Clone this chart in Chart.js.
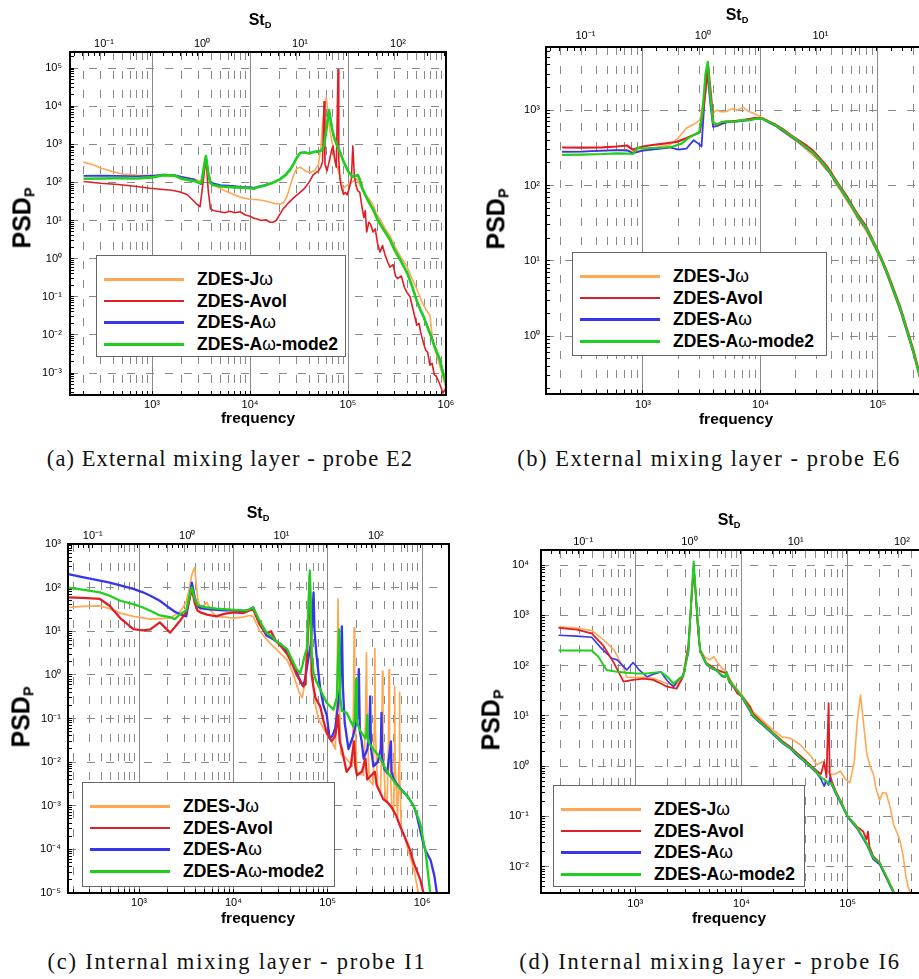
<!DOCTYPE html>
<html><head><meta charset="utf-8">
<script src="https://cdn.jsdelivr.net/npm/chart.js@4.4.1/dist/chart.umd.min.js"></script>
<style>
html,body{margin:0;padding:0;background:#fff;overflow:hidden;width:919px;height:979px;position:relative;font-family:"Liberation Sans",Arial,sans-serif}
canvas{position:absolute}
.t{position:absolute;white-space:nowrap;font-weight:bold;color:#000;transform:translate(-50%,-50%);z-index:5;line-height:1}
.st{font-size:16px}
.st sub,.yl sub{font-size:58%;vertical-align:-0.25em}
.fq{font-size:15.5px}
.yl{font-size:25px;transform:translate(-50%,-50%) rotate(-90deg)}
.cap{position:absolute;white-space:nowrap;font-family:"Liberation Serif","Times New Roman",serif;font-size:21px;color:#111;transform:translate(-50%,-50%);z-index:5}
.leg{position:absolute;background:#fff;border:1px solid #666;z-index:6;box-sizing:border-box}
.legrow{position:absolute;left:0;right:0;height:20px}
.legline{position:absolute;left:7px;width:80px;height:2.5px;top:9px}
.legtxt{position:absolute;left:100px;top:0;font-weight:bold;font-size:17.5px;line-height:20px;white-space:nowrap;color:#000}
.legtxt span{font-weight:normal}
</style></head><body>
<script>
// ---------- series meta ----------
const seriesLabels = ['ZDES-Jω', 'ZDES-Avol', 'ZDES-Aω', 'ZDES-Aω-mode2'];
const seriesColors = ['#ffa752', '#e01e28', '#3636ee', '#1ecf1e'];
const drawOrder = [3, 1, 2, 0];
const ST_SCALE = 3236; // frequency corresponding to St_D = 1

// ---------- panel (a): external mixing layer, probe E2 ----------
const aJ = [[200,340],[250,290],[300,240],[400,190],[500,165],[700,155],[1000,150],[1300,150],[1600,145],[2000,140],[2500,125],[2900,115],[3150,105],[3400,250],[3550,440],[3750,200],[3950,110],[4300,85],[5000,68],[6000,55],[7000,47],[8000,41],[9000,38],[10000,36],[12000,35],[14000,33],[16000,30],[18000,28],[20000,27],[22000,29],[24000,45],[26000,90],[28000,160],[30000,230],[32400,250],[35000,220],[38000,190],[42000,185],[46000,210],[50000,300],[53000,900],[55000,3500],[57500,9000],[60000,17000],[62500,7000],[65000,2500],[70000,900],[75000,340],[82000,150],[88000,68],[95000,80],[105000,95],[115000,110],[123000,125],[135000,75],[150000,48],[165000,36],[180000,26],[195000,15],[212000,11],[240000,6],[268000,4],[300000,2.1],[340000,1.2],[400000,0.62],[450000,0.3],[503000,0.16],[550000,0.09],[584000,0.063],[630000,0.045],[685000,0.033],[710000,0.014],[738000,0.006],[800000,0.003],[867000,0.0015],[930000,0.0008],[1000000,0.0004]];
const aAvol = [[200,105],[300,95],[450,88],[700,78],[950,70],[1300,65],[1600,62],[1930,56],[2280,48],[2620,34],[2900,26],[3090,23],[3350,120],[3550,430],[3750,60],[3950,20],[4300,18],[4940,17],[5500,16],[6200,17.5],[7000,16],[7900,17],[9000,14],[10000,13],[11000,11.5],[11800,11],[13000,10],[14500,10.5],[16000,9],[17100,9],[18500,10],[20000,14],[21700,20],[23500,25],[25000,30],[28000,40],[32400,55],[36000,70],[40000,100],[43900,155],[47000,180],[50000,200],[53000,260],[55000,350],[56900,13000],[58200,300],[61100,200],[65000,400],[68000,700],[70300,900],[73000,400],[76000,250],[79100,90000],[80500,400],[82800,125],[86000,70],[90000,48],[94000,55],[97700,47],[103000,70],[108000,120],[112000,900],[116000,150],[121000,80],[126000,60],[132000,55],[138000,25],[145000,12],[150000,18],[155000,5],[163000,9],[170000,8],[180000,5],[190000,6],[200000,2.5],[212000,1.5],[225000,2.2],[240000,1.2],[255000,0.8],[268000,0.6],[289000,0.7],[305000,0.35],[320000,0.3],[350000,0.35],[375000,0.18],[400000,0.13],[430000,0.1],[450000,0.06],[480000,0.03],[503000,0.018],[530000,0.02],[550000,0.012],[590000,0.006],[620000,0.004],[650000,0.0035],[685000,0.0016],[720000,0.0018],[760000,0.0009],[800000,0.0008],[867000,0.0005],[930000,0.0003],[1000000,0.0004]];
const aA = [[200,148],[300,150],[450,148],[700,145],[1000,150],[1300,160],[1700,155],[2000,140],[2300,130],[2700,120],[3000,95],[3200,90],[3400,250],[3550,470],[3750,180],[3950,105],[4200,95],[5000,85],[6000,82],[7000,80],[8500,76],[10000,75],[11000,72],[12000,78],[14000,85],[17000,100],[20000,120],[23000,160],[25700,220],[28000,320],[30000,450],[32400,600],[36000,620],[40000,590],[45000,640],[50000,650],[54000,700],[57000,1000],[60000,2500],[62500,5500],[64000,8000],[66000,5000],[69000,2500],[73000,1400],[78000,900],[83000,630],[90000,360],[100000,200],[112000,140],[120000,150],[126000,160],[132000,120],[142000,65],[155000,40],[167000,28],[180000,20],[200000,11],[230000,6],[268000,3.2],[300000,1.7],[350000,0.85],[400000,0.45],[450000,0.2],[503000,0.08],[550000,0.045],[584000,0.033],[640000,0.018],[700000,0.01],[780000,0.0045],[867000,0.0023],[930000,0.0011],[1000000,0.0006]];
const aM2 = [[200,125],[300,127],[450,128],[700,126],[1000,135],[1300,155],[1700,150],[2000,125],[2300,115],[2700,108],[3000,100],[3200,95],[3400,280],[3550,490],[3750,170],[3950,95],[4200,85],[5000,78],[6000,76],[7000,74],[8500,72],[10000,70],[11000,68],[12000,75],[14000,82],[17000,98],[20000,118],[23000,155],[25700,215],[28000,310],[30000,440],[32400,590],[36000,610],[40000,580],[45000,630],[50000,640],[54000,690],[57000,950],[60000,2300],[62500,5200],[64000,7800],[66000,4800],[69000,2400],[73000,1350],[78000,880],[83000,620],[90000,350],[100000,195],[112000,138],[120000,148],[126000,155],[132000,118],[142000,63],[155000,39],[167000,27],[180000,19.5],[200000,10.5],[230000,5.8],[268000,3.1],[300000,1.65],[350000,0.82],[400000,0.43],[450000,0.19],[503000,0.078],[550000,0.044],[584000,0.032],[640000,0.017],[700000,0.0095],[780000,0.0043],[867000,0.0022],[930000,0.001],[1000000,0.00055]];

// ---------- panel (b): external mixing layer, probe E6 ----------
const bJ = [[205,285],[300,283],[450,288],[600,295],[730,298],[820,280],[1000,300],[1300,320],[1700,350],[2000,430],[2350,580],[2700,650],[3050,740],[3300,1500],[3500,3000],[3700,1400],[3900,900],[4250,1000],[4700,950],[5150,960],[5700,1050],[6400,1000],[7100,1100],[7800,980],[8700,910],[10000,820],[10500,760],[12000,670],[13500,610],[15500,520],[18000,440],[21000,370],[24600,300],[28000,250],[32000,205],[36300,160],[40000,160],[42000,115],[48000,85],[53700,64],[60000,49],[68000,35],[79000,25],[90000,17],[105000,10.5],[120000,6.3],[135000,3.8],[155000,2.1],[175000,1.15],[200000,0.58],[223000,0.3],[260000,0.115]];
const bAvol = [[205,320],[300,318],[450,322],[600,330],[730,340],[820,300],[1000,330],[1200,345],[1400,355],[1700,370],[1940,380],[2300,420],[2680,465],[3050,515],[3300,1200],[3590,3800],[3800,1500],[3970,670],[4300,640],[4700,690],[5150,700],[6000,720],[7100,740],[8000,760],[9000,790],[10000,780],[10500,775],[12000,700],[13500,640],[15500,560],[18000,470],[21000,400],[24600,340],[28000,290],[32000,230],[36300,185],[42000,130],[48000,95],[53700,74],[60000,55],[68000,40],[79000,29],[90000,19],[105000,11.5],[120000,7],[135000,4.3],[155000,2.4],[175000,1.3],[200000,0.65],[223000,0.34],[260000,0.13]];
const bA = [[205,280],[300,282],[450,290],[600,295],[730,292],[820,270],[1000,290],[1300,305],[1700,320],[2000,300],[2350,310],[2700,400],[2960,360],[3150,330],[3350,1500],[3550,3300],[3750,1200],[3950,600],[4300,620],[4700,660],[5150,690],[6000,700],[7100,720],[8000,740],[9000,760],[10000,770],[10500,760],[12000,680],[13500,620],[15500,530],[18000,450],[21000,380],[24600,315],[28000,270],[32000,215],[36300,170],[42000,122],[48000,90],[53700,68],[60000,52],[68000,37],[79000,27],[90000,18],[105000,11],[120000,6.6],[135000,4],[155000,2.2],[175000,1.2],[200000,0.6],[223000,0.32],[260000,0.12]];
const bM2 = [[205,255],[300,258],[450,262],[600,268],[730,266],[820,262],[900,320],[1000,310],[1200,315],[1500,320],[1800,330],[2130,360],[2400,420],[2700,470],[3000,500],[3200,900],[3400,3000],[3560,4400],[3750,1500],[3950,680],[4300,650],[4700,700],[5150,710],[6000,700],[7100,745],[8000,730],[9000,770],[10000,775],[10500,765],[12000,690],[13500,630],[15500,545],[18000,460],[21000,390],[24600,320],[28000,275],[32000,220],[36300,175],[42000,125],[48000,92],[53700,70],[60000,53],[68000,38],[79000,28],[90000,18.5],[105000,11.2],[120000,6.8],[135000,4.1],[155000,2.3],[175000,1.25],[200000,0.62],[223000,0.33],[260000,0.125]];

// ---------- panel (c): internal mixing layer, probe I1 ----------
const cJ = [[178,35],[251,37],[385,38],[490,33],[631,26],[871,22],[1318,19],[1660,19.5],[2138,20],[2723,28],[3162,46],[3388,90],[3631,200],[3890,290],[4169,60],[4467,32],[4800,38],[5248,46],[5700,30],[6607,22],[7943,21],[10000,20],[12589,21],[14791,23],[16218,22],[19055,10],[22387,6.6],[25119,5],[28184,4],[32000,3],[37154,2.2],[42000,1.2],[46774,0.6],[50000,0.39],[53703,0.3],[57544,0.7],[60256,2],[64565,150],[67608,1],[74131,0.2],[79433,0.1],[90000,0.06],[100000,0.04],[110000,0.03],[120226,0.02],[125000,0.4],[128825,55],[132500,0.3],[138038,0.015],[158489,0.012],[181970,0.008],[188000,0.3],[190546,12],[193000,0.2],[204174,0.006],[239883,0.005],[252000,0.1],[257040,3.2],[262000,0.06],[275423,0.004],[301995,0.003],[313000,0.1],[316228,4],[320000,0.05],[338844,0.0025],[363078,0.002],[375000,0.05],[380189,1.2],[385000,0.03],[407380,0.0015],[426580,0.0012],[441000,0.03],[446684,1.3],[452000,0.02],[478630,0.0009],[501187,0.0007],[508000,0.015],[512861,0.55],[518000,0.01],[549541,0.0005],[570000,0.01],[575440,0.4],[581000,0.006],[602560,0.0003],[650000,0.0002],[707946,0.0001],[780000,0.00005],[831764,0.00003],[912011,0.00001]];
const cAvol = [[178,60],[251,58],[385,55],[490,38],[631,20],[871,11.2],[1100,10.5],[1318,11],[1660,16],[2138,9.3],[2723,17.5],[3162,27],[3388,50],[3631,93],[3890,45],[4169,30],[4467,27],[5248,24],[6607,22],[7943,25],[10000,27],[12589,26],[14791,30],[16218,32],[19055,14],[22387,9],[25119,10],[28184,6],[32000,4.5],[37154,3],[42000,1.8],[46774,1.0],[50000,0.8],[54954,0.55],[57544,0.6],[60256,3],[62500,20],[64565,185],[66069,20],[67608,1.0],[71000,0.5],[74131,0.3],[83176,0.19],[90000,0.09],[97724,0.047],[109648,0.03],[120226,0.04],[128825,0.12],[134000,0.03],[141254,0.02],[158489,0.006],[175000,0.008],[190546,0.03],[196000,0.008],[204174,0.005],[230000,0.006],[251189,0.012],[262000,0.004],[290000,0.005],[316228,0.006],[330000,0.003],[389045,0.0014],[430000,0.0012],[478630,0.0009],[530000,0.0006],[588844,0.00033],[650000,0.0002],[741310,0.0001],[812831,0.00005],[891251,0.00003],[960000,0.00002],[1035142,0.00001]];
const cA = [[178,205],[251,175],[385,145],[490,130],[631,112],[871,94],[1100,78],[1318,65],[1660,50],[1960,38],[2400,28],[2723,24.5],[3162,22],[3388,50],[3631,130],[3890,60],[4169,38],[4467,34],[5248,32],[6607,31],[7943,30],[10000,30],[12589,29],[14791,31],[16218,35],[19055,15],[22387,8],[25119,7],[28184,6],[32000,5],[37154,3.5],[42000,2],[46774,1.2],[50000,0.8],[54954,0.55],[57544,0.8],[60256,1.5],[66069,5],[69183,30],[70795,78],[72500,10],[75858,3],[79433,1.2],[83176,0.5],[90000,0.2],[97724,0.12],[104713,0.035],[112000,0.04],[120226,0.06],[135000,0.5],[141254,13],[145000,0.5],[151356,0.08],[165959,0.02],[186209,0.04],[205000,0.1],[213796,1.35],[219000,0.05],[229087,0.03],[239883,0.012],[263027,0.02],[276000,0.05],[281838,0.32],[288000,0.02],[305492,0.008],[338844,0.01],[365000,0.02],[371535,0.135],[378000,0.012],[398107,0.007],[426580,0.0056],[467735,0.03],[475000,0.006],[501187,0.004],[537032,0.0032],[600000,0.0024],[707946,0.0016],[812831,0.001],[880000,0.0006],[954993,0.00028],[1030000,0.00014],[1096478,0.00009],[1230269,0.000057],[1348963,0.000025],[1435489,0.00001]];
const cM2 = [[178,100],[251,90],[385,78],[490,65],[631,50],[871,42],[1100,35],[1318,29.5],[1660,23],[2138,21],[2400,19],[2723,24.5],[3162,30],[3388,60],[3631,100],[3890,55],[4169,40],[4467,38],[5248,35],[6607,33],[7943,32],[10000,31],[12589,30],[13800,30],[14791,32],[16218,35],[19055,17],[22387,9.3],[25119,8],[28184,6],[32000,5],[37154,3.9],[42000,2.2],[46774,1.35],[51000,1.1],[53703,1.6],[57544,3],[60256,4],[62500,40],[64565,245],[66069,30],[67608,3],[70795,1.1],[75858,0.7],[83176,0.47],[90000,0.33],[97724,0.23],[114815,0.16],[125000,0.3],[131826,11],[136000,0.3],[141254,0.15],[158489,0.135],[186209,0.066],[194000,0.1],[199526,0.8],[204000,0.08],[223872,0.05],[251189,0.035],[258000,0.05],[263027,0.12],[268000,0.03],[281838,0.025],[316228,0.018],[354813,0.013],[426580,0.006],[537032,0.003],[707946,0.0016],[812831,0.001],[954993,0.0004],[1096478,0.00008],[1218968,0.00001]];

// ---------- panel (d): internal mixing layer, probe I6 ----------
const dJ = [[190,590],[282,560],[389,500],[500,330],[631,205],[776,90],[832,59],[1000,58],[1288,59],[1500,55],[1995,44],[2455,40],[2818,65],[3162,250],[3400,2200],[3548,8000],[3700,2800],[3900,500],[4074,210],[4500,150],[5000,130],[5495,150],[5888,120],[6500,90],[7244,75],[7943,50],[9120,34],[10000,27],[12023,16],[12882,12],[15000,9],[17000,7],[19953,5.2],[24000,3.8],[28840,3.6],[35481,2.7],[44668,1.6],[51286,1.07],[58884,1.25],[66069,0.75],[70795,0.68],[77000,0.7],[85114,0.8],[95000,0.55],[104713,0.47],[115000,1.2],[123027,8],[131826,26],[140000,8],[151356,1.7],[165000,0.9],[173780,0.72],[185000,0.35],[199526,0.21],[213796,0.3],[230000,0.29],[251189,0.15],[269153,0.07],[288403,0.05],[309030,0.034],[331131,0.017],[354813,0.006],[370000,0.004],[389045,0.003]];
const dAvol = [[190,560],[282,520],[389,435],[500,250],[631,112],[776,48],[955,52],[1200,55],[1479,52],[1700,45],[1995,38],[2455,35],[2818,60],[3162,250],[3400,2500],[3548,8600],[3700,3000],[3900,500],[4074,205],[4677,112],[5888,82],[7244,70],[7600,55],[9120,28],[10000,25],[12023,15],[12882,11],[15000,8],[17000,6.3],[19953,4.6],[24000,3.2],[28840,2.4],[31623,2.0],[37000,1.5],[44668,1.05],[51286,0.8],[56000,0.7],[60000,1.2],[63096,0.6],[66069,18],[67608,0.7],[70795,0.5],[77000,0.32],[85114,0.21],[100000,0.1],[123027,0.062],[140000,0.05],[150000,0.035],[154882,0.05],[160000,0.025],[173780,0.016],[200000,0.012],[230000,0.0065],[269153,0.0033],[290000,0.002]];
const dA = [[190,400],[282,385],[389,365],[480,220],[600,140],[676,130],[832,82],[955,115],[1100,80],[1288,60],[1500,68],[1738,75],[2000,50],[2291,38],[2600,55],[2818,63],[3162,180],[3400,2500],[3548,10000],[3700,2800],[3900,560],[4074,200],[4400,135],[4677,105],[5200,88],[5888,78],[6500,62],[7000,58],[7244,70],[7600,48],[7943,43],[9120,30],[10000,24],[11000,17],[12882,9.5],[15000,7.2],[17000,5.7],[19953,4.2],[24000,2.9],[28840,2.2],[31623,1.8],[37000,1.35],[44668,0.95],[51286,0.72],[56000,0.55],[60000,0.4],[63096,0.5],[66069,0.42],[68000,0.6],[70795,0.42],[77000,0.28],[85114,0.19],[100000,0.095],[123027,0.056],[150000,0.028],[173780,0.014],[200000,0.011],[230000,0.006],[269153,0.003],[290000,0.0019]];
const dM2 = [[190,200],[282,200],[389,200],[450,150],[537,82],[676,75],[832,72],[1000,70],[1288,70],[1738,75],[2000,60],[2291,44],[2600,55],[2818,60],[3162,200],[3400,3000],[3548,11700],[3700,3000],[3900,600],[4074,205],[4400,140],[4677,110],[5200,90],[5888,80],[6500,65],[7000,60],[7244,75],[7600,50],[7943,45],[9120,32],[10000,25],[11000,18],[12882,10],[15000,7.5],[17000,6],[19953,4.4],[24000,3],[28840,2.3],[31623,1.9],[37000,1.4],[44668,1.0],[51286,0.75],[56000,0.6],[63096,0.5],[66069,0.45],[70795,0.45],[77000,0.3],[85114,0.2],[100000,0.1],[123027,0.059],[150000,0.03],[173780,0.015],[200000,0.012],[230000,0.0065],[269153,0.0032],[290000,0.002]];

// ---------- axis ranges ----------
const xRanges = { a:[145.5, 1e6], b:[149.5, 1e6], c:[176.6, 1.93e6], d:[129.7, 1e6] };
const yRanges = { a:[2.65e-4, 2.63e5], b:[0.17, 6918], c:[1e-5, 1e3], d:[0.003, 19900] };

// ---------- layout (positions only) ----------
const panels = [
  {key:'a', series:[aJ,aAvol,aA,aM2], box:{left:0,top:0,w:460,h:430}, yW:70, topH:52, bottomH:35, padR:14, padB:7.4, padT:5.4, padY:12, lw:[1.6,1.6,1.6,2.6]},
  {key:'b', series:[bJ,bAvol,bA,bM2], box:{left:460,top:0,w:560,h:430}, yW:86, topH:47, bottomH:36, padR:24.5, padB:8.4, padT:8.1, padY:10, lw:[1.6,2.2,1.8,2.2]},
  {key:'c', series:[cJ,cAvol,cA,cM2], box:{left:0,top:490,w:460,h:430}, yW:68, topH:54, bottomH:27, padR:11, padB:7.4, padT:5.4, padY:11, lw:[1.7,2.3,2.3,2.3]},
  {key:'d', series:[dJ,dAvol,dA,dM2], box:{left:460,top:490,w:560,h:430}, yW:81, topH:60, bottomH:27, padR:66, padB:8.4, padT:5.4, padY:16, lw:[1.6,1.8,1.6,2]}
];
const texts = {
  a:{st:[260,21], fq:[258,418], yl:[23,218], leg:[96,255,250,102], cap:[230,459,365], caption:'(a) External mixing layer - probe E2'},
  b:{st:[737,16], fq:[736,419], yl:[497,219], leg:[572,252,255,104], cap:[709,459,382], caption:'(b) External mixing layer - probe E6'},
  c:{st:[258,514], fq:[258,918], yl:[22,717], leg:[82,782,253,105], cap:[237,962,377], caption:'(c) Internal mixing layer - probe I1'},
  d:{st:[729,521], fq:[729,918], yl:[492,720], leg:[553,785,252,102], cap:[710,962,380], caption:'(d) Internal mixing layer - probe I6'}
};

// ---------- helpers ----------
const SUP = {'0':'⁰','1':'¹','2':'²','3':'³','4':'⁴','5':'⁵','6':'⁶','7':'⁷','8':'⁸','9':'⁹','-':'⁻'};
function powLabel(v){
  const l = Math.log10(v), e = Math.round(l);
  if (Math.abs(l - e) > 1e-6) return '';
  return '10' + String(e).split('').map(c => SUP[c]).join('');
}
function logTicks(min, max){
  const out = [];
  for (let e = Math.floor(Math.log10(min)); e <= Math.ceil(Math.log10(max)); e++) {
    for (let m = 1; m <= 9; m++) {
      const v = m * Math.pow(10, e);
      if (v >= min * 0.9999 && v <= max * 1.0001) out.push({value: v, major: m === 1});
    }
  }
  return out;
}
const GRID = '#8a8a8a';
const NONE = 'rgba(0,0,0,0)';
const tickFont = {family:'"Liberation Sans", Arial, sans-serif', size: 11};
const framePlugin = {
  id:'frame',
  afterDatasetsDraw(chart){
    const {ctx, chartArea:a} = chart;
    ctx.save(); ctx.strokeStyle = '#000'; ctx.lineWidth = 2;
    ctx.strokeRect(a.left, a.top, a.right - a.left, a.bottom - a.top);
    ctx.restore();
  }
};

function makeChart(p){
  const canvas = document.createElement('canvas');
  canvas.width = p.box.w; canvas.height = p.box.h;
  canvas.style.left = p.box.left + 'px'; canvas.style.top = p.box.top + 'px';
  canvas.style.width = p.box.w + 'px'; canvas.style.height = p.box.h + 'px';
  document.body.appendChild(canvas);
  const xr = xRanges[p.key], yr = yRanges[p.key];
  new Chart(canvas, {
    type:'line',
    data:{ datasets: p.series.map((s, i) => ({
      label: seriesLabels[i],
      data: s.map(([x, y]) => ({x, y})),
      borderColor: seriesColors[i], backgroundColor: seriesColors[i],
      borderWidth: p.lw[i], pointRadius: 0, tension: 0, fill: false,
      borderJoinStyle: 'round', order: drawOrder[i]
    })) },
    options:{
      responsive:false, animation:false, devicePixelRatio:1, events:[],
      layout:{padding:{left:0, top:0, bottom:0, right:p.padR}},
      plugins:{legend:{display:false}, tooltip:{enabled:false}},
      scales:{
        x:{ type:'logarithmic', position:'bottom', min:xr[0], max:xr[1], bounds:'data',
          afterBuildTicks: s => { s.ticks = logTicks(s.min, s.max); },
          afterFit: s => { s.height = p.bottomH; s.paddingLeft = 0; s.paddingRight = 0; },
          ticks:{ autoSkip:false, maxRotation:0, minRotation:0, padding:p.padB, font:tickFont, color:'#000', callback: v => powLabel(v) },
          grid:{ drawTicks:true, tickLength:-4, tickColor:'#000', tickWidth:1, lineWidth:1, color: GRID },
          border:{ display:false, dash: c => (c.tick && !c.tick.major) ? [8, 11] : [] }
        },
        y:{ type:'logarithmic', position:'left', min:yr[0], max:yr[1], bounds:'data',
          afterBuildTicks: s => { s.ticks = logTicks(s.min, s.max); },
          afterFit: s => { s.width = p.yW; s.paddingTop = 0; s.paddingBottom = 0; },
          ticks:{ autoSkip:false, padding:p.padY, font:tickFont, color:'#000', callback: v => powLabel(v) },
          grid:{ drawTicks:true, tickLength:-4, tickColor:'#000', tickWidth:1, lineWidth:1, color: c => (c.tick && c.tick.major) ? GRID : NONE },
          border:{ display:false, dash: [8, 11] }
        },
        xt:{ type:'logarithmic', position:'top', min:xr[0] / ST_SCALE, max:xr[1] / ST_SCALE, bounds:'data',
          afterBuildTicks: s => { s.ticks = logTicks(s.min, s.max); },
          afterFit: s => { s.height = p.topH; s.paddingLeft = 0; s.paddingRight = 0; },
          ticks:{ autoSkip:false, maxRotation:0, minRotation:0, padding:p.padT, font:tickFont, color:'#000', callback: v => powLabel(v) },
          grid:{ drawTicks:true, tickLength:-4, tickColor:'#000', tickWidth:1, lineWidth:1, color: NONE },
          border:{ display:false }
        }
      }
    },
    plugins:[framePlugin]
  });
}

function addText(cls, html, x, y){
  const d = document.createElement('div');
  d.className = cls; d.innerHTML = html;
  d.style.left = x + 'px'; d.style.top = y + 'px';
  document.body.appendChild(d);
  return d;
}
function addLegend(l){
  const box = document.createElement('div');
  box.className = 'leg';
  box.style.left = l[0] + 'px'; box.style.top = l[1] + 'px';
  box.style.width = l[2] + 'px'; box.style.height = l[3] + 'px';
  seriesLabels.forEach((lab, i) => {
    const row = document.createElement('div');
    row.className = 'legrow';
    row.style.top = (13 + i * 21.7) + 'px';
    const ln = document.createElement('div');
    ln.className = 'legline'; ln.style.background = seriesColors[i];
    const tx = document.createElement('div');
    tx.className = 'legtxt';
    tx.innerHTML = lab.split('ω').join('<span>ω</span>');
    row.appendChild(ln); row.appendChild(tx); box.appendChild(row);
  });
  document.body.appendChild(box);
}
const measureCtx = document.createElement('canvas').getContext('2d');
function addCaption(c, text){
  const d = addText('cap', '', c[0], c[1]);
  d.textContent = text;
  measureCtx.font = '20px "Liberation Serif"';
  const w20 = measureCtx.measureText(text).width;
  const size = Math.min(22.5, 20 * c[2] / w20);
  d.style.fontSize = size.toFixed(2) + 'px';
  measureCtx.font = size.toFixed(2) + 'px "Liberation Serif"';
  const w = measureCtx.measureText(text).width;
  d.style.letterSpacing = Math.max(0, (c[2] - w) / (text.length - 1)).toFixed(2) + 'px';
}

panels.forEach(p => {
  makeChart(p);
  const t = texts[p.key];
  addText('t st', 'St<sub>D</sub>', t.st[0], t.st[1]);
  addText('t fq', 'frequency', t.fq[0], t.fq[1]);
  addText('t yl', 'PSD<sub>P</sub>', t.yl[0], t.yl[1]);
  addLegend(t.leg);
  addCaption(t.cap, t.caption);
});
</script>
</body></html>
